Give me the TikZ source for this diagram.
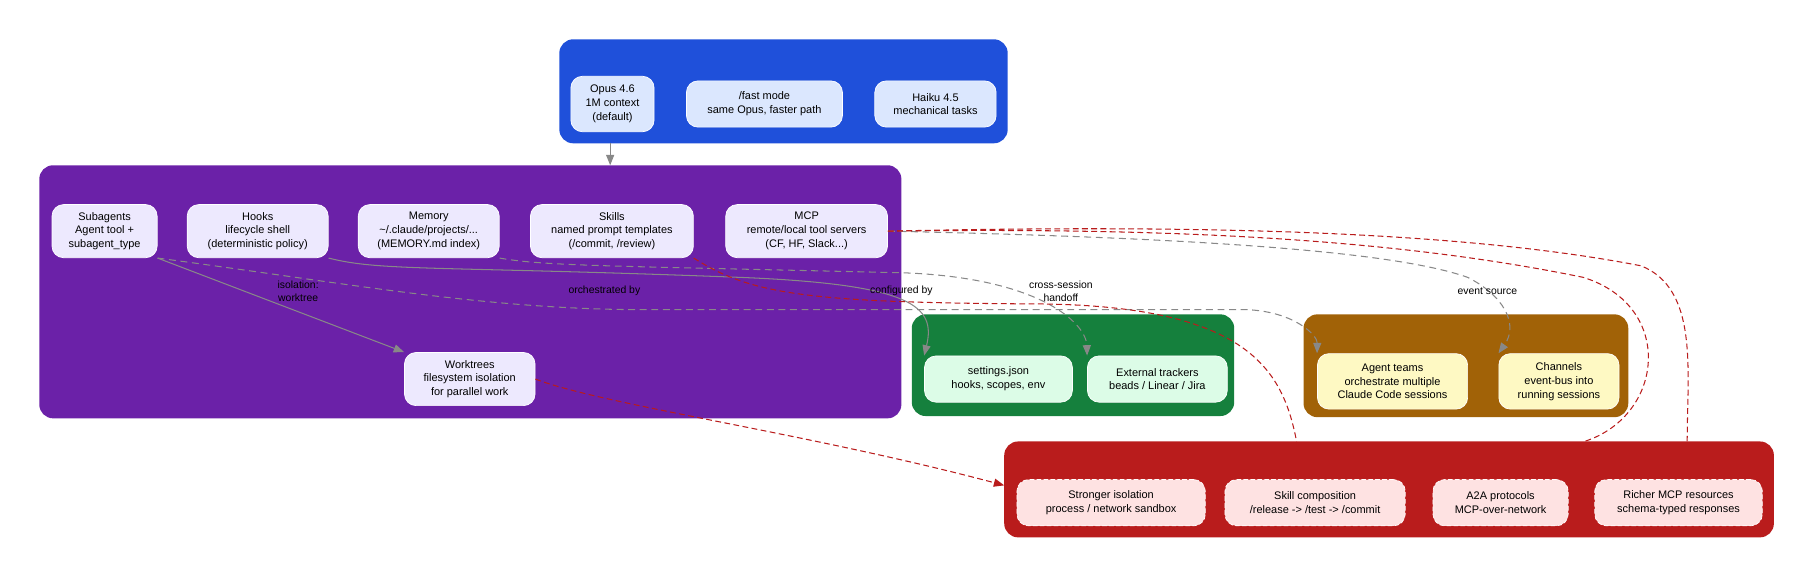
\documentclass[tikz,border=0pt]{standalone}
\usepackage{fontspec}
\setmainfont{Liberation Sans}
\usetikzlibrary{arrows.meta}
\definecolor{cblue}{HTML}{1F50DA}\definecolor{nblue}{HTML}{DBE7FE}
\definecolor{cpurp}{HTML}{6B21A8}\definecolor{npurp}{HTML}{EDE9FE}
\definecolor{cgreen}{HTML}{15803D}\definecolor{ngreen}{HTML}{DCFCE7}
\definecolor{cbrown}{HTML}{A16207}\definecolor{nbrown}{HTML}{FEF9C3}
\definecolor{cred}{HTML}{B91C1C}\definecolor{nred}{HTML}{FEE2E2}
\definecolor{egrey}{HTML}{888888}
\tikzset{
 clus/.style={rounded corners=12pt, draw=none},
 nd/.style={rounded corners=10pt, align=center, font=\fontsize{9.5}{12}\selectfont, inner sep=0pt, draw=white, line width=0.6pt},
 gr/.style={draw=egrey, line width=0.9pt, -{Triangle[length=9pt,width=7pt]}},
 grd/.style={gr, dashed, dash pattern=on 6pt off 4pt},
 rd/.style={draw=cred, line width=0.9pt, dash pattern=on 5pt off 3pt},
 lb/.style={font=\fontsize{9}{11}\selectfont, align=center},
}
\begin{document}
\begin{tikzpicture}[x=1pt,y=-1pt]
\useasboundingbox (0,0) rectangle (1568,499);
% clusters
\fill[clus,cblue] (484,34) rectangle (872,124);
\fill[clus,cpurp] (34,143) rectangle (780,362);
\fill[clus,cgreen] (789,272) rectangle (1068,360);
\fill[clus,cbrown] (1128,272) rectangle (1409,361);
\fill[clus,cred] (869,382) rectangle (1535,465);
\coordinate (bluebot) at (528,124);
\coordinate (purptop) at (528,143);
% blue
\node[nd,fill=nblue,minimum width=72pt,minimum height=48pt] (opus) at (530,90) {Opus 4.6\\1M context\\(default)};
\node[nd,fill=nblue,minimum width=135pt,minimum height=40pt] (fast) at (661.5,90) {/fast mode\\same Opus, faster path};
\node[nd,fill=nblue,minimum width=105pt,minimum height=40pt] (haiku) at (809.5,90) {Haiku 4.5\\mechanical tasks};
% purple
\node[nd,fill=npurp,minimum width=91pt,minimum height=46pt] (sub) at (90.5,200) {Subagents\\Agent tool +\\subagent\_type};
\node[nd,fill=npurp,minimum width=122pt,minimum height=46pt] (hooks) at (223,200) {Hooks\\lifecycle shell\\(deterministic policy)};
\node[nd,fill=npurp,minimum width=122pt,minimum height=46pt] (mem) at (371,200) {Memory\\\textasciitilde/.claude/projects/...\\(MEMORY.md index)};
\node[nd,fill=npurp,minimum width=141pt,minimum height=46pt] (skills) at (529.5,200) {Skills\\named prompt templates\\(/commit, /review)};
\node[nd,fill=npurp,minimum width=140pt,minimum height=46pt] (mcp) at (698,200) {MCP\\remote/local tool servers\\(CF, HF, Slack...)};
\node[nd,fill=npurp,minimum width=113pt,minimum height=46pt] (wt) at (406.5,328) {Worktrees\\filesystem isolation\\for parallel work};
% green
\node[nd,fill=ngreen,minimum width=128pt,minimum height=40pt] (set) at (864,328) {settings.json\\hooks, scopes, env};
\node[nd,fill=ngreen,minimum width=121pt,minimum height=40pt] (ext) at (1001.5,328) {External trackers\\beads / Linear / Jira};
% brown
\node[nd,fill=nbrown,minimum width=130pt,minimum height=48pt] (team) at (1205,330) {Agent teams\\orchestrate multiple\\Claude Code sessions};
\node[nd,fill=nbrown,minimum width=104pt,minimum height=48pt] (chan) at (1349,330) {Channels\\event-bus into\\running sessions};
% red
\tikzset{rn/.style={nd,fill=nred,dashed,dash pattern=on 4pt off 2pt,minimum height=40pt}}
\node[rn,minimum width=163pt] (iso) at (961.5,435) {Stronger isolation\\process / network sandbox};
\node[rn,minimum width=156pt] (comp) at (1138,435) {Skill composition\\/release -> /test -> /commit};
\node[rn,minimum width=117pt] (a2a) at (1298.5,435) {A2A protocols\\MCP-over-network};
\node[rn,minimum width=145pt] (rich) at (1452.5,435) {Richer MCP resources\\schema-typed responses};
\coordinate (redA) at (1122,382);
\coordinate (redB) at (1371,382);
\coordinate (redC) at (1460,382);
\coordinate (redD) at (869,420);
% edges
\draw[gr] (bluebot) -- (purptop);
\draw[gr] (sub.south east) -- (wt.north west);
\node[lb] (l1) at (258,252) {isolation:\\worktree};
\draw[grd] (sub.south east) .. controls (300,245) and (420,268) .. (560,268) -- (1080,268) .. controls (1120,270) and (1140,290) .. (team.north west);
\node[lb] (l2) at (523,252) {orchestrated by};
\draw[gr] (hooks.south east) .. controls (330,235) and (380,230) .. (640,240) .. controls (790,246) and (810,265) .. (set.north west);
\node[lb] (l3) at (780,252) {configured by};
\draw[grd] (mem.south east) .. controls (470,230) and (520,230) .. (780,236) .. controls (900,240) and (940,280) .. (ext.north west);
\node[lb] (l4) at (918,252) {cross-session\\handoff};
\draw[grd] (mcp.east) .. controls (1000,205) and (1200,215) .. (1270,240) .. controls (1300,255) and (1315,280) .. (chan.north west);
\node[lb] (l5) at (1287,252) {event source};
\draw[rd] (skills.south east) .. controls (650,255) and (700,262) .. (900,263) .. controls (1080,265) and (1110,320) .. (redA);
\draw[rd] (mcp.east) .. controls (1000,197) and (1200,205) .. (1370,240) .. controls (1450,265) and (1440,360) .. (redB);
\draw[rd] (mcp.east) .. controls (1000,195) and (1250,197) .. (1420,230) .. controls (1470,250) and (1460,320) .. (redC);
\draw[rd, -{Triangle[length=9pt,width=7pt]}] (wt.east) .. controls (520,350) and (700,375) .. (redD);
\end{tikzpicture}
\end{document}
